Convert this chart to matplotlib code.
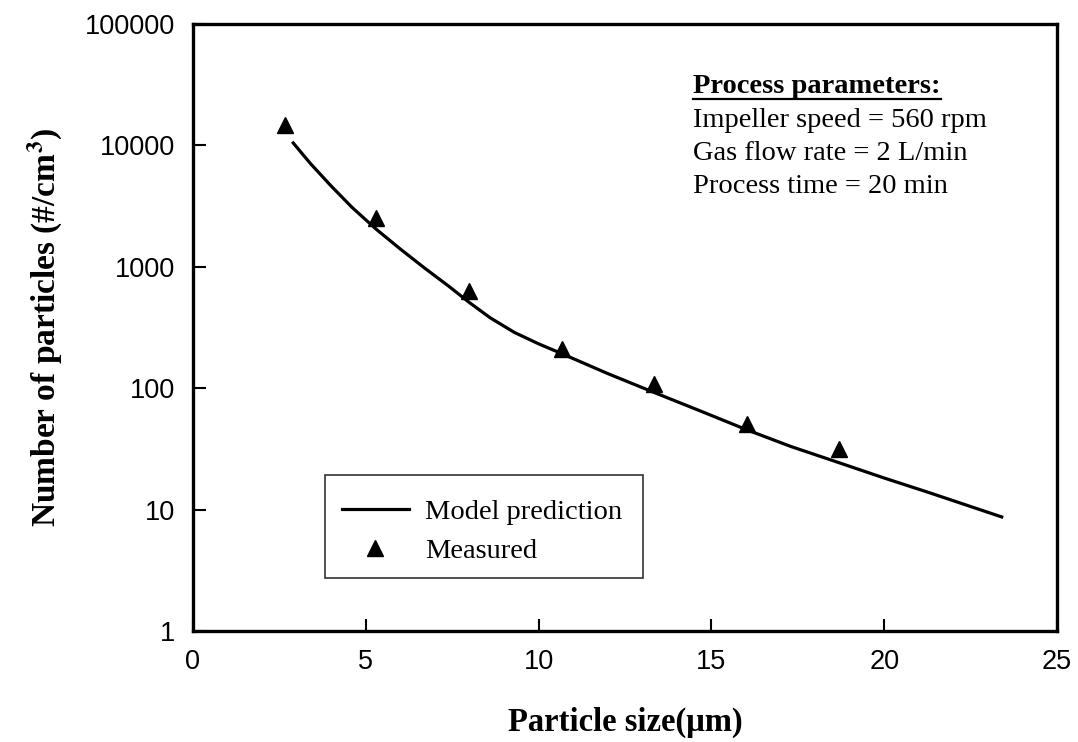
import matplotlib
matplotlib.use("Agg")
from matplotlib import pyplot as plt
from matplotlib.patches import Rectangle
from matplotlib.ticker import FixedLocator, NullLocator, FixedFormatter

# model curve
model_x = [2.9, 3.4, 4.0, 4.6, 5.3, 6.0, 6.7, 7.4, 8.0, 8.6, 9.3, 10.0, 10.7, 12.0, 13.3,
           14.7, 16.0, 17.3, 18.7, 20.0, 21.3, 23.4]
model_y = [10470, 7080, 4620, 3090, 2040, 1400, 977, 692, 507, 380, 288, 232, 191, 132, 93.3,
           64.6, 45.7, 33.1, 24.3, 18.2, 13.8, 8.7]

# measured points
meas_x = [2.65, 5.3, 8.0, 10.67, 13.33, 16.03, 18.7]
meas_y = [14600, 2520, 626, 212, 109, 51, 31.7]

xticks = [0, 5, 10, 15, 20, 25]
yticks = [1, 10, 100, 1000, 10000, 100000]
ytick_labels = ["1", "10", "100", "1000", "10000", "100000"]

params = ["Impeller speed = 560 rpm", "Gas flow rate = 2 L/min", "Process time = 20 min"]

plt.rcParams['mathtext.fontset'] = 'stix'
serif = 'Liberation Serif'
sans = 'Liberation Sans'

W, H = 1078, 742
fig = plt.figure(figsize=(W / 100, H / 100), dpi=100)
L, R, T, B = 193, 1057, 24, 631
ax = fig.add_axes([L / W, (H - B) / H, (R - L) / W, (B - T) / H])

ax.plot(model_x, model_y, color='black', lw=2.3, label='Model prediction')
ax.plot(meas_x, meas_y, ls='none', marker='^', ms=11.5, color='black', label='Measured')

ax.set_yscale('log')
ax.set_xlim(0, 25)
ax.set_ylim(1, 100000)
ax.xaxis.set_major_locator(FixedLocator(xticks))
ax.yaxis.set_major_locator(FixedLocator(yticks))
ax.yaxis.set_major_formatter(FixedFormatter(ytick_labels))
ax.yaxis.set_minor_locator(NullLocator())
ax.tick_params(direction='in', length=9, width=1.5, pad=13, labelsize=19.5)
for lab in ax.get_xticklabels() + ax.get_yticklabels():
    lab.set_family(sans)
for s in ax.spines.values():
    s.set_linewidth(2.4)

ax.set_xlabel('Particle size(μm)', family=serif, weight='bold', fontsize=23.5)
ax.set_ylabel(r'Number of particles (#/cm$^\mathbf{3}$)', family=serif, weight='bold', fontsize=24)
ax.xaxis.set_label_coords(0.5, -0.125)
ax.yaxis.set_label_coords(-0.148, 0.5)

# legend, frame drawn separately
leg = ax.legend(loc='upper left', bbox_to_anchor=(0.172, 0.217), frameon=False,
                prop={'family': serif, 'size': 20.5}, borderpad=0, borderaxespad=0,
                handlelength=2.35, handletextpad=0.58, labelspacing=0.45)
ax.add_patch(Rectangle((0.1528, 0.0873), 0.368, 0.1697, transform=ax.transAxes,
                       fill=False, ec='#333333', lw=1.2, zorder=5))

# process parameter box
tx = (693 - L) / (R - L)
title = ax.text(tx, (B - 92.7) / (B - T), 'Process parameters:', transform=ax.transAxes,
                family=serif, weight='bold', fontsize=20.5, va='baseline')
for i, p in enumerate(params):
    ax.text(tx, (B - 127 - 33 * i) / (B - T), p, transform=ax.transAxes,
            family=serif, fontsize=20.5, va='baseline')

fig.canvas.draw()
bb = title.get_window_extent(fig.canvas.get_renderer())
uy = (B - 98.5) / (B - T)
x0 = (bb.x0 - ax.bbox.x0) / ax.bbox.width
x1 = (bb.x1 - ax.bbox.x0) / ax.bbox.width
ax.plot([x0, x1], [uy, uy], transform=ax.transAxes, color='black', lw=1.6, clip_on=False)

fig.savefig('out.png', dpi=100)
